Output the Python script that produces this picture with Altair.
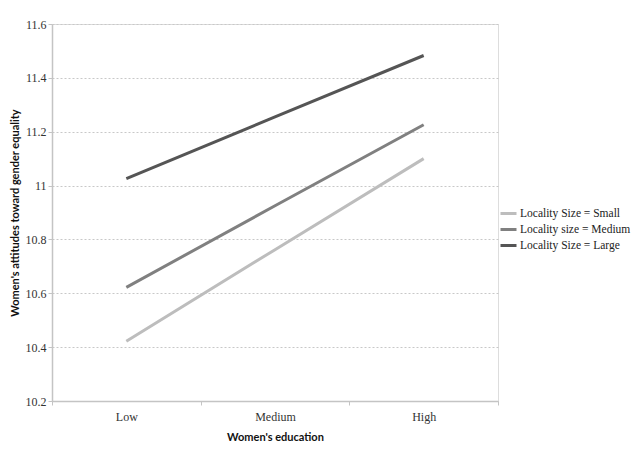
import altair as alt
import pandas as pd

education = ["Low", "Medium", "High"]
small = [10.422, 10.762, 11.100]
medium = [10.622, 10.925, 11.226]
large = [11.026, 11.255, 11.483]
series_names = ["Locality Size = Small", "Locality size = Medium", "Locality Size = Large"]
series_colors = ["#bdbdbd", "#808080", "#555555"]
y_ticks = [10.2, 10.4, 10.6, 10.8, 11.0, 11.2, 11.4, 11.6]

rows = []
for name, vals in zip(series_names, [small, medium, large]):
    for e, v in zip(education, vals):
        rows.append({"education": e, "value": v, "series": name})
df = pd.DataFrame(rows)

serif = "Liberation Serif"
sans = "Lato"

chart = alt.Chart(df).mark_line(strokeWidth=3).encode(
    x=alt.X(
        "education:N",
        sort=education,
        bandPosition=0.5,
        scale=alt.Scale(type="band", paddingInner=0, paddingOuter=0),
        axis=alt.Axis(
            title="Women's education",
            labelAngle=0,
            tickBand="extent",
            grid=False,
            domainColor="#c4c4c4",
            domainWidth=1.5,
            tickColor="#c4c4c4",
            tickSize=4,
            labelPadding=6,
            labelFont=serif,
            labelFontSize=12,
            labelColor="#333333",
            titleFont=sans,
            titleFontSize=11,
            titleFontWeight="bold",
            titleColor="#111111",
            titlePadding=9,
        ),
    ),
    y=alt.Y(
        "value:Q",
        scale=alt.Scale(domain=[10.2, 11.6], zero=False, nice=False),
        axis=alt.Axis(
            title="Women's attitudes toward gender equality",
            values=y_ticks,
            format="~g",
            grid=True,
            gridColor="#c8c8c8",
            gridDash=[2, 2],
            gridWidth=1,
            domainColor="#c4c4c4",
            domainWidth=1.5,
            tickColor="#c4c4c4",
            tickSize=4,
            labelPadding=2,
            labelFont=serif,
            labelFontSize=12,
            labelColor="#333333",
            titleFont=sans,
            titleFontSize=11,
            titleFontWeight="bold",
            titleColor="#111111",
            titlePadding=5,
        ),
    ),
    color=alt.Color(
        "series:N",
        sort=series_names,
        scale=alt.Scale(domain=series_names, range=series_colors),
        legend=alt.Legend(
            title=None,
            orient="none",
            legendX=447,
            legendY=180,
            symbolType="stroke",
            symbolStrokeWidth=3,
            symbolSize=256,
            labelFont=serif,
            labelFontSize=11.5,
            labelColor="#222222",
            labelOffset=2,
            rowPadding=0,
        ),
    ),
).properties(
    width=446,
    height=377,
    autosize=alt.AutoSizeParams(type="none"),
    padding={"left": 44, "top": 16, "right": 134, "bottom": 42},
).configure_view(stroke=None).configure(background="white")

chart.save("out.html", embed_options={"renderer": "svg", "actions": False})
